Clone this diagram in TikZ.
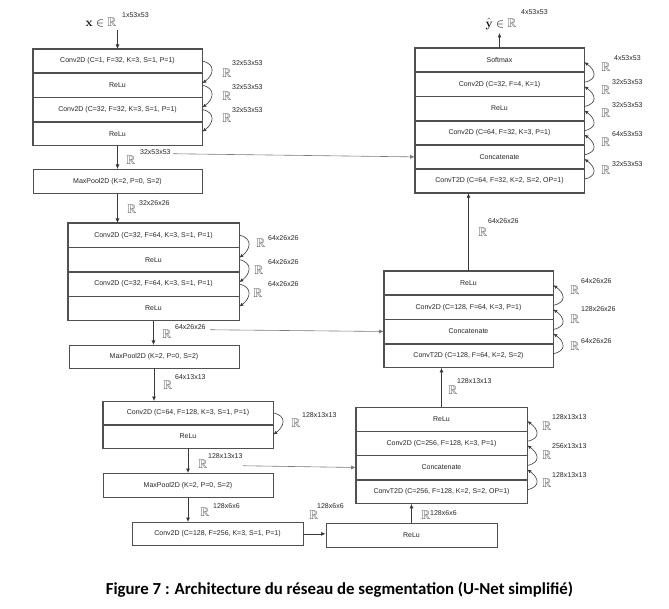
\documentclass[tikz,border=0pt]{standalone}
\usepackage{amssymb}
\usepackage[no-math]{fontspec}
\setmainfont{Liberation Sans}
\newfontfamily\capfont{Carlito}
\usetikzlibrary{arrows.meta}
\definecolor{boxc}{HTML}{505050}
\definecolor{arrc}{HTML}{3A3A3A}
\definecolor{skipc}{HTML}{7A7A7A}
\definecolor{rgray}{HTML}{555555}
\definecolor{txt}{HTML}{262626}
\newcommand\dimlab[4]{\node[rr] (#1) at (#2) {$\mathbb{R}$};\node[sup] (#1s) at (#3) {#4};}
\begin{document}
\begin{tikzpicture}[x=1pt,y=-1pt,
 layer/.style={draw=boxc, line width=0.7pt, inner sep=0pt, anchor=north, minimum width=169pt, minimum height=23.5pt, font=\fontsize{7}{8}\selectfont, text=txt},
 arr/.style={draw=arrc, line width=0.7pt, -{Latex[length=4.5pt,width=4pt]}},
 skipline/.style={draw=skipc, line width=0.6pt, -{Latex[length=4.5pt,width=4pt]}},
 curv/.style={draw=arrc, line width=0.6pt, -{Latex[length=4pt,width=3.5pt]}},
 rr/.style={inner sep=0pt, font=\fontsize{12.5}{12.5}\selectfont, text=rgray},
 sup/.style={anchor=west, inner sep=0pt, font=\fontsize{7}{8}\selectfont, text=txt},
 blk/.style={draw=boxc, line width=1pt}]
\fill[white] (0,0) rectangle (669,609);
\useasboundingbox (0,0) rectangle (669,609);

% top-left encoder block
\node[layer] (tl1) at (117.5,49) {Conv2D (C=1, F=32, K=3, S=1, P=1)};
\node[layer] (tl2) at (tl1.south) {ReLu};
\node[layer] (tl3) at (tl2.south) {Conv2D (C=32, F=32, K=3, S=1, P=1)};
\node[layer] (tl4) at (tl3.south) {ReLu};
\draw[blk] (tl1.north west) rectangle (tl4.south east);
\node[layer, minimum height=24pt] (mp1) at (117.5,169) {MaxPool2D (K=2, P=0, S=2)};

% middle-left block
\node[layer, minimum width=171pt, minimum height=23.75pt] (ml1) at (153.5,223) {Conv2D (C=32, F=64, K=3, S=1, P=1)};
\node[layer, minimum width=171pt, minimum height=23.75pt] (ml2) at (ml1.south) {ReLu};
\node[layer, minimum width=171pt, minimum height=23.75pt] (ml3) at (ml2.south) {Conv2D (C=32, F=64, K=3, S=1, P=1)};
\node[layer, minimum width=171pt, minimum height=23.75pt] (ml4) at (ml3.south) {ReLu};
\draw[blk] (ml1.north west) rectangle (ml4.south east);
\node[layer, minimum width=170pt, minimum height=22.5pt] (mp2) at (154,345) {MaxPool2D (K=2, P=0, S=2)};

% bottom-left block
\node[layer, minimum width=170pt, minimum height=23pt] (bl1) at (188,401) {Conv2D (C=64, F=128, K=3, S=1, P=1)};
\node[layer, minimum width=170pt, minimum height=23pt] (bl2) at (bl1.south) {ReLu};
\draw[blk] (bl1.north west) rectangle (bl2.south east);
\node[layer, minimum width=170pt, minimum height=24pt] (mp3) at (188,473) {MaxPool2D (K=2, P=0, S=2)};
\node[layer, minimum width=171pt, minimum height=23pt] (bc) at (217.5,522) {Conv2D (C=128, F=256, K=3, S=1, P=1)};
\node[layer, minimum width=171pt, minimum height=24pt] (br0) at (411.5,523) {ReLu};

% bottom-right block
\node[layer, minimum width=171pt] (br1) at (441.5,407) {ReLu};
\node[layer, minimum width=171pt] (br2) at (br1.south) {Conv2D (C=256, F=128, K=3, P=1)};
\node[layer, minimum width=171pt] (br3) at (br2.south) {Concatenate};
\node[layer, minimum width=171pt] (br4) at (br3.south) {ConvT2D (C=256, F=128, K=2, S=2, OP=1)};
\draw[blk] (br1.north west) rectangle (br4.south east);

% middle-right block
\node[layer] (mr1) at (468.5,271) {ReLu};
\node[layer] (mr2) at (mr1.south) {Conv2D (C=128, F=64, K=3, P=1)};
\node[layer] (mr3) at (mr2.south) {Concatenate};
\node[layer] (mr4) at (mr3.south) {ConvT2D (C=128, F=64, K=2, S=2)};
\draw[blk] (mr1.north west) rectangle (mr4.south east);

% top-right block
\node[layer] (tr1) at (499.5,48) {Softmax};
\node[layer] (tr2) at (tr1.south) {Conv2D (C=32, F=4, K=1)};
\node[layer] (tr3) at (tr2.south) {ReLu};
\node[layer] (tr4) at (tr3.south) {Conv2D (C=64, F=32, K=3, P=1)};
\node[layer] (tr5) at (tr4.south) {Concatenate};
\node[layer] (tr6) at (tr5.south) {ConvT2D (C=64, F=32, K=2, S=2, OP=1)};
\draw[blk] (tr1.north west) rectangle (tr6.south east);

% main connectors
\coordinate (xa) at (117.5,30);
\draw[arr] (xa) -- (tl1.north);
\draw[arr] (tl4.south) -- (mp1.north);
\draw[arr] (mp1.south) -- (mp1.south |- ml1.north);
\draw[arr] (ml4.south) -- (ml4.south |- mp2.north);
\draw[arr] (mp2.south) -- (mp2.south |- bl1.north);
\draw[arr] (bl2.south) -- (bl2.south |- mp3.north);
\draw[arr] (mp3.south) -- (mp3.south |- bc.north);
\draw[arr] (bc.east) -- (bc.east -| br0.west);
\draw[arr] (br0.north) -- (br0.north |- br4.south);
\draw[arr] (br1.north) -- (br1.north |- mr4.south);
\draw[arr] (mr1.north) -- (mr1.north |- tr6.south);
\coordinate (ya) at (499.5,33);
\draw[arr] (tr1.north) -- (ya);

% skip connections
\coordinate (s1) at (173,153.75);
\draw[skipline] (s1) -- (tr5.west);
\coordinate (s2) at (210,329.75);
\draw[skipline] (s2) -- (mr3.west);
\coordinate (s3) at (243,465.75);
\draw[skipline] (s3) -- (br3.west);

% curved arrows
\foreach \a/\b in {tl1/tl2, tl2/tl3, tl3/tl4, ml1/ml2, ml2/ml3, ml3/ml4, bl1/bl2}
  {\draw[curv] (\a.east) .. controls +(14,3) and +(11,-8) .. ([yshift=2pt]\b.east);}
\foreach \a/\b in {tr2/tr1, tr3/tr2, tr4/tr3, tr5/tr4, tr6/tr5, mr2/mr1, mr3/mr2, mr4/mr3, br2/br1, br3/br2, br4/br3}
  {\draw[curv] ([yshift=2pt]\a.east) .. controls +(14,-3) and +(11,8) .. ([yshift=-2pt]\b.east);}

% input / output
\node[inner sep=0pt, font=\fontsize{12.5}{12.5}\selectfont] (xin) at (101,22) {$\mathbf{x}\in{\color{rgray}\mathbb{R}}$};
\node[sup] (xins) at (122,15) {1x53x53};
\node[inner sep=0pt, font=\fontsize{12.5}{12.5}\selectfont] (yout) at (501,24) {$\hat{\mathbf{y}}\in{\color{rgray}\mathbb{R}}$};
\node[sup] (youts) at (521,12) {4x53x53};

% dimension labels
\dimlab{r1}{227,73}{232,63}{32x53x53}
\dimlab{r2}{227,96}{232,87}{32x53x53}
\dimlab{r3}{227,118}{232,110}{32x53x53}
\dimlab{r4}{131,160}{140,152}{32x53x53}
\dimlab{r5}{132,209}{139,203}{32x26x26}
\dimlab{r6}{261,243}{268,238}{64x26x26}
\dimlab{r7}{259,270}{268,262}{64x26x26}
\dimlab{r8}{258,293}{268,284}{64x26x26}
\dimlab{r9}{167,334}{175,327}{64x26x26}
\dimlab{r10}{168,385}{175,377}{64x13x13}
\dimlab{r11}{296,423}{302,415}{128x13x13}
\dimlab{r12}{203,464}{208,456}{128x13x13}
\dimlab{r13}{205,512}{213,506}{128x6x6}
\dimlab{r14}{314,515}{317,506}{128x6x6}
\dimlab{r15}{426,515}{430,513}{128x6x6}
\dimlab{r16}{453,390}{457,381}{128x13x13}
\dimlab{r17}{547,426}{552,417}{128x13x13}
\dimlab{r18}{547,455}{552,446}{256x13x13}
\dimlab{r19}{547,483}{552,475}{128x13x13}
\dimlab{r20}{483,232}{488,221}{64x26x26}
\dimlab{r21}{575,290}{581,281}{64x26x26}
\dimlab{r22}{575,319}{581,309}{128x26x26}
\dimlab{r23}{575,346}{581,341}{64x26x26}
\dimlab{r24}{606,67}{614,58}{4x53x53}
\dimlab{r25}{606,90}{612,82}{32x53x53}
\dimlab{r26}{606,113}{612,105}{32x53x53}
\dimlab{r27}{606,142}{612,134}{64x53x53}
\dimlab{r28}{606,170}{612,164}{32x53x53}

% caption
\node[inner sep=0pt, font=\capfont\bfseries\fontsize{16.8}{19}\selectfont] (cap) at (339.5,590) {Figure 7 : Architecture du réseau de segmentation (U-Net simplifié)};
\end{tikzpicture}
\end{document}
